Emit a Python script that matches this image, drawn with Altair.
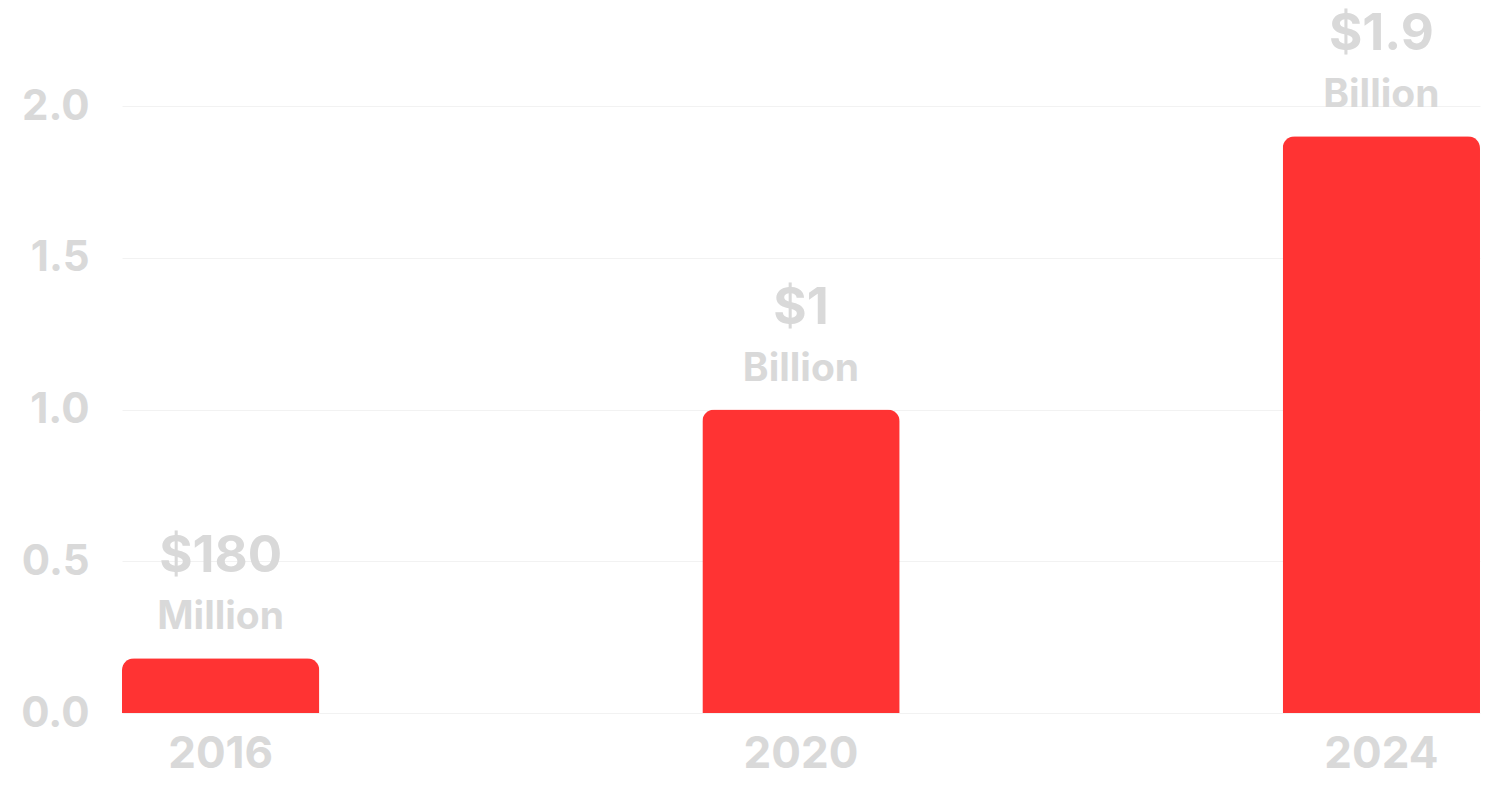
import altair as alt
import pandas as pd

years = ["2016", "2020", "2024"]
values = [0.18, 1.0, 1.9]
amounts = ["$180", "$1", "$1.9"]
units = ["Million", "Billion", "Billion"]

df = pd.DataFrame({"year": years, "value": values, "amount": amounts, "unit": units})

FONT = "Inter"
GRAY = "#d9d9d9"

x = alt.X("year:N", sort=years, title=None,
          scale=alt.Scale(paddingInner=0.66, paddingOuter=0),
          axis=alt.Axis(labelAngle=0, labelFont=FONT, labelFontSize=44, labelFontWeight="bold",
                        labelColor=GRAY, ticks=False, domain=False, labelPadding=19, grid=False))
y = alt.Y("value:Q", title=None,
          scale=alt.Scale(domain=[0, 2.0], nice=False),
          axis=alt.Axis(values=[0, 0.5, 1.0, 1.5, 2.0], format=".1f", labelFont=FONT,
                        labelFontSize=42, labelFontWeight="bold", labelColor=GRAY,
                        ticks=False, domain=False, labelPadding=33,
                        gridColor="#f2f2f2", gridWidth=1))

bars = alt.Chart(df).mark_bar(color="#FF3333", cornerRadiusTopLeft=12, cornerRadiusTopRight=12).encode(x=x, y=y)

amt = alt.Chart(df).mark_text(font=FONT, fontSize=51, fontWeight="bold", color=GRAY,
                              baseline="alphabetic", dy=-86).encode(x=x, y=y, text="amount:N")
unit = alt.Chart(df).mark_text(font=FONT, fontSize=39, fontWeight="bold", color=GRAY,
                               baseline="alphabetic", dy=-29).encode(x=x, y=y, text="unit:N")

chart = alt.layer(bars, amt, unit).properties(
    width=1358, height=607,
    background="white",
    autosize=alt.AutoSizeParams(type="none"),
    padding={"left": 114, "top": 98, "right": 12, "bottom": 80},
).configure_view(stroke=None)

chart.save("out.html", embed_options={"renderer": "svg", "actions": False})
